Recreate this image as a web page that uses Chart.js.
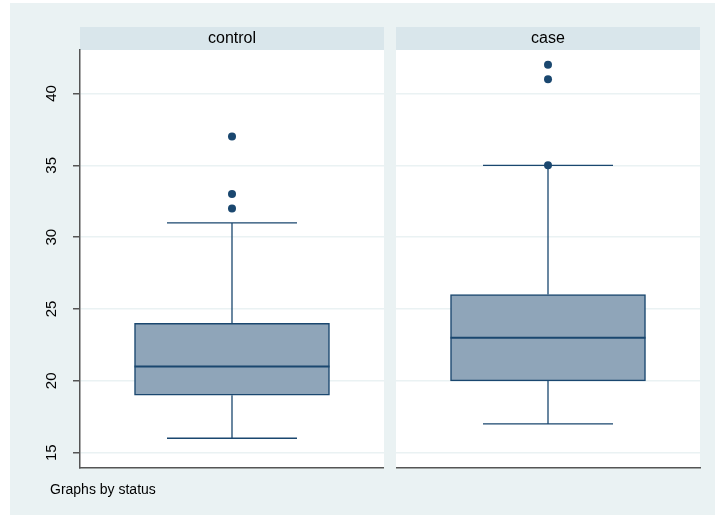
<!DOCTYPE html>
<html>
<head>
<meta charset="utf-8">
<script src="https://cdn.jsdelivr.net/npm/chart.js@4/dist/chart.umd.min.js"></script>
<style>
html,body{margin:0;padding:0;background:#fff;}
#wrap{position:relative;width:715px;height:515px;}
</style>
</head>
<body>
<div id="wrap"><canvas id="chart" width="715" height="515"></canvas></div>
<script>
// box plot summary per group
const groups = ["control", "case"];
const lowerWhisker = [16, 17];
const q1 = [19, 20];
const median = [21, 23];
const q3 = [24, 26];
const upperWhisker = [31, 35];
const outliers = [[32, 33, 37], [35, 41, 42]];
const yTicks = [15, 20, 25, 30, 35, 40];
const footNote = "Graphs by status";

const BG = "#eaf2f3";
const STRIP = "#d9e6eb";
const NAVY = "#1a476f";
const FONT = "'Liberation Sans', Arial, sans-serif";

const boxData = groups.map((g, i) => ({ x: i, y: [q1[i], q3[i]] }));
const outlierData = [];
outliers.forEach((list, i) => list.forEach(v => outlierData.push({ x: i, y: v })));

function panelEdges(chart) {
    const a = chart.chartArea;
    const mid = chart.scales.x.getPixelForValue(0.5);
    return [[a.left, mid - 6], [mid + 6, a.right]];
}

const panels = {
    id: "panels",
    beforeDraw(chart) {
        const ctx = chart.ctx, a = chart.chartArea;
        ctx.save();
        ctx.fillStyle = "#fff";
        ctx.fillRect(0, 0, chart.width, chart.height);
        ctx.fillStyle = BG;
        ctx.fillRect(10, 3, chart.width - 10, chart.height - 3);
        panelEdges(chart).forEach(([l, r], i) => {
            ctx.fillStyle = "#fff";
            ctx.fillRect(l, a.top, r - l, a.bottom - a.top);
            ctx.fillStyle = STRIP;
            ctx.fillRect(l, a.top - 23, r - l, 23);
            ctx.fillStyle = "#000";
            ctx.font = "16px " + FONT;
            ctx.textAlign = "center";
            ctx.textBaseline = "middle";
            ctx.fillText(groups[i], (l + r) / 2, a.top - 11.5);
        });
        ctx.restore();
    },
    beforeDatasetsDraw(chart) {
        // whiskers and caps
        const ctx = chart.ctx, x = chart.scales.x, y = chart.scales.y;
        ctx.save();
        ctx.strokeStyle = NAVY;
        ctx.lineWidth = 1.3;
        groups.forEach((g, i) => {
            const cx = x.getPixelForValue(i);
            const half = 65;
            [[lowerWhisker[i], q1[i]], [upperWhisker[i], q3[i]]].forEach(([end, edge]) => {
                const ye = y.getPixelForValue(end), yb = y.getPixelForValue(edge);
                ctx.beginPath();
                ctx.moveTo(cx, ye);
                ctx.lineTo(cx, yb);
                ctx.moveTo(cx - half, ye);
                ctx.lineTo(cx + half, ye);
                ctx.stroke();
            });
        });
        ctx.restore();
    },
    afterDatasetsDraw(chart) {
        // median line across each box
        const ctx = chart.ctx, y = chart.scales.y;
        const bars = chart.getDatasetMeta(0).data;
        ctx.save();
        ctx.strokeStyle = NAVY;
        ctx.lineWidth = 2;
        groups.forEach((g, i) => {
            const b = bars[i];
            const ym = y.getPixelForValue(median[i]);
            ctx.beginPath();
            ctx.moveTo(b.x - b.width / 2, ym);
            ctx.lineTo(b.x + b.width / 2, ym);
            ctx.stroke();
        });
        ctx.restore();
    },
    afterDraw(chart) {
        const ctx = chart.ctx, a = chart.chartArea;
        const [[, gl], [gr]] = panelEdges(chart);
        ctx.save();
        ctx.fillStyle = BG;
        ctx.fillRect(gl, a.top - 23, gr - gl, a.bottom - a.top + 26);
        ctx.fillStyle = "#000";
        ctx.font = "14px " + FONT;
        ctx.textAlign = "left";
        ctx.textBaseline = "alphabetic";
        ctx.fillText(footNote, 50, 494);
        ctx.restore();
    }
};

new Chart(document.getElementById("chart"), {
    type: "bar",
    data: {
        datasets: [
            {
                data: boxData,
                backgroundColor: "#8fa5b9",
                borderColor: NAVY,
                borderWidth: 1.5,
                borderSkipped: false,
                barThickness: 195
            },
            {
                type: "scatter",
                data: outlierData,
                pointRadius: 4,
                pointBackgroundColor: NAVY,
                pointBorderWidth: 0
            }
        ]
    },
    options: {
        responsive: false,
        animation: false,
        layout: { padding: { top: 50, left: 10, right: 15, bottom: 47 } },
        plugins: { legend: { display: false }, tooltip: { enabled: false } },
        scales: {
            x: {
                type: "linear",
                offset: false,
                min: -0.481,
                max: 1.481,
                ticks: { display: false },
                grid: { display: false, drawTicks: false, offset: false },
                border: { color: "#555", width: 1.5 },
                afterFit: s => { s.height = 0; }
            },
            y: {
                min: 13.93,
                max: 43.03,
                afterBuildTicks: s => { s.ticks = yTicks.map(v => ({ value: v })); },
                afterFit: s => { s.width = 70; },
                grid: { color: BG, lineWidth: 1.5, tickColor: "#555", tickLength: 7, tickWidth: 1.5 },
                border: { color: "#555", width: 1.5 },
                ticks: {
                    color: "#000",
                    font: { family: FONT, size: 15 },
                    minRotation: 90,
                    maxRotation: 90,
                    crossAlign: "center",
                    padding: 13
                }
            }
        }
    },
    plugins: [panels]
});
</script>
</body>
</html>
